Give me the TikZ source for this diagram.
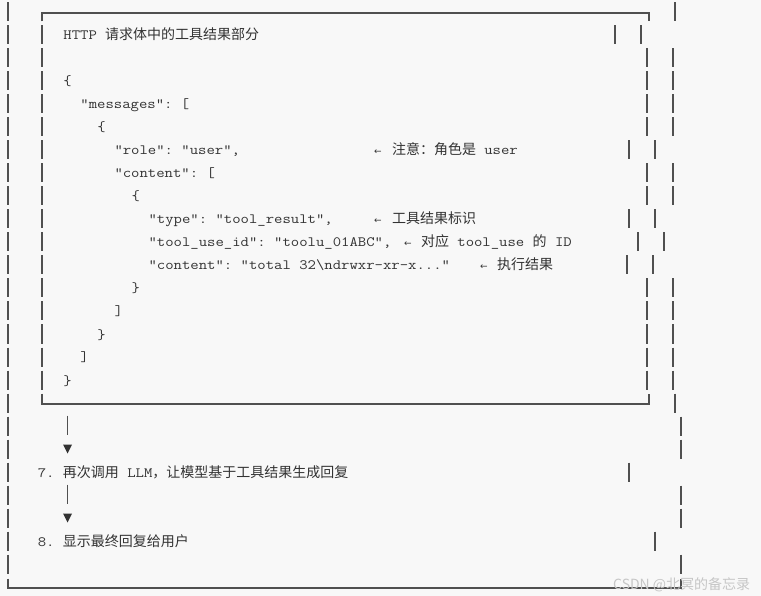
\documentclass[tikz,border=0pt]{standalone}
\usepackage{fontspec}
\usetikzlibrary{calc}
\setmonofont{Latin Modern Mono}[FakeStretch=1.145]
\newfontfamily\zhfont{Noto Sans CJK SC}
\newfontfamily\symfont{DejaVu Sans}
\newcommand\mo{\ttfamily\fontsize{14.2}{16}\selectfont}
\newcommand\zh[1]{{\zhfont\fontsize{14}{16}\selectfont #1}}
\newcommand\la{{\symfont\fontsize{9}{16}\selectfont ←}}
\newcommand\us{\char95\relax}
\newcommand\bs{\char92\relax}
\newcommand\lb{\char123\relax}
\newcommand\rb{\char125\relax}
\definecolor{bg}{HTML}{F8F8F8}
\definecolor{ink}{HTML}{333333}
\definecolor{rulec}{HTML}{505050}
\begin{document}
\begin{tikzpicture}[x=1pt,y=1pt,
  txt/.style={anchor=base west,inner sep=0,outer sep=0,text=ink,font=\mo},
  arr/.style={anchor=base,inner sep=0,outer sep=0,text=ink},
  bar/.style={draw=rulec,line width=1.2pt},
  tri/.style={fill=ink,draw=none}]
\useasboundingbox (0,0) rectangle (761,-596);
\fill[bg] (0,0) rectangle (761,-596);
% outer left bars
\foreach \k in {0,...,24} \draw[bar] (8,{-12-23*\k+9.5}) -- (8,{-12-23*\k-9.5});
% inner left bars
\foreach \k in {1,...,16} \draw[bar] (42,{-12-23*\k+9.5}) -- (42,{-12-23*\k-9.5});
% right bars
\foreach \k/\x in {0/675,1/615,1/641,2/647,2/673,3/647,3/673,4/647,4/673,5/647,5/673,
  6/629,6/655,7/647,7/673,8/647,8/673,9/629,9/655,10/638,10/664,11/627,11/653,
  12/647,12/673,13/647,13/673,14/647,14/673,15/647,15/673,16/647,16/673,
  17/675,18/681,19/681,20/629,21/681,22/681,23/655,24/681}
  \draw[bar] (\x,{-12-23*\k+9.5}) -- (\x,{-12-23*\k-9.5});
% inner box corners and borders
\draw[bar] (42,-21.5) -- (42,-13) -- (649,-13) -- (649,-21.5);
\draw[bar] (42,-393.5) -- (42,-404) -- (649,-404) -- (649,-393.5);
% outer bottom border
\draw[bar] (8,-578.5) -- (8,-588) -- (681,-588) -- (681,-578.5);
% flow arrows
\coordinate (s1) at (67.6,-425);
\coordinate (s2) at (67.6,-494);
\draw[bar] ($(s1)+(0,9.5)$) -- ($(s1)+(0,-9.5)$);
\draw[bar] ($(s2)+(0,9.5)$) -- ($(s2)+(0,-9.5)$);
\fill[tri] (63.1,-444.5) -- (72.1,-444.5) -- (67.6,-453.5) -- cycle;
\fill[tri] (63.1,-513.5) -- (72.1,-513.5) -- (67.6,-522.5) -- cycle;
% texts
\node[txt] (t1) at ({3.74+8.52*7},-40) {HTTP \zh{请求体中的工具结果部分}};
\node[txt] (t3) at ({3.74+8.52*7},-86) {\lb};
\node[txt] (t4) at ({3.74+8.52*9},-109) {"messages": [};
\node[txt] (t5) at ({3.74+8.52*11},-132) {\lb};
\node[txt] (t6) at ({3.74+8.52*13},-155) {"role": "user",};
\node[arr] (a6) at (378,-155) {\la};
\node[txt] (c6) at (392,-155) {\zh{注意：角色是} user};
\node[txt] (t7) at ({3.74+8.52*13},-178) {"content": [};
\node[txt] (t8) at ({3.74+8.52*15},-201) {\lb};
\node[txt] (t9) at ({3.74+8.52*17},-224) {"type": "tool\us result",};
\node[arr] (a9) at (378,-224) {\la};
\node[txt] (c9) at (392,-224) {\zh{工具结果标识}};
\node[txt] (t10) at ({3.74+8.52*17},-247) {"tool\us use\us id": "toolu\us 01ABC",};
\node[arr] (a10) at (408,-247) {\la};
\node[txt] (c10) at (421,-247) {\zh{对应} tool\us use \zh{的} ID};
\node[txt] (t11) at ({3.74+8.52*17},-270) {"content": "total 32\bs ndrwxr-xr-x..."};
\node[arr] (a11) at (484,-270) {\la};
\node[txt] (c11) at (497,-270) {\zh{执行结果}};
\node[txt] (t12) at ({3.74+8.52*15},-293) {\rb};
\node[txt] (t13) at ({3.74+8.52*13},-316) {]};
\node[txt] (t14) at ({3.74+8.52*11},-339) {\rb};
\node[txt] (t15) at ({3.74+8.52*9},-362) {]};
\node[txt] (t16) at ({3.74+8.52*7},-385) {\rb};
\node[txt] (t20) at ({3.74+8.52*4},-477) {7. \zh{再次调用} LLM\zh{，让模型基于工具结果生成回复}};
\node[txt] (t23) at ({3.74+8.52*4},-546) {8. \zh{显示最终回复给用户}};
\node[anchor=base west,inner sep=0,text=gray!45,font={\zhfont\fontsize{14}{16}\selectfont}] (wm) at (613,-589) {CSDN @北冥的备忘录};
\end{tikzpicture}
\end{document}
